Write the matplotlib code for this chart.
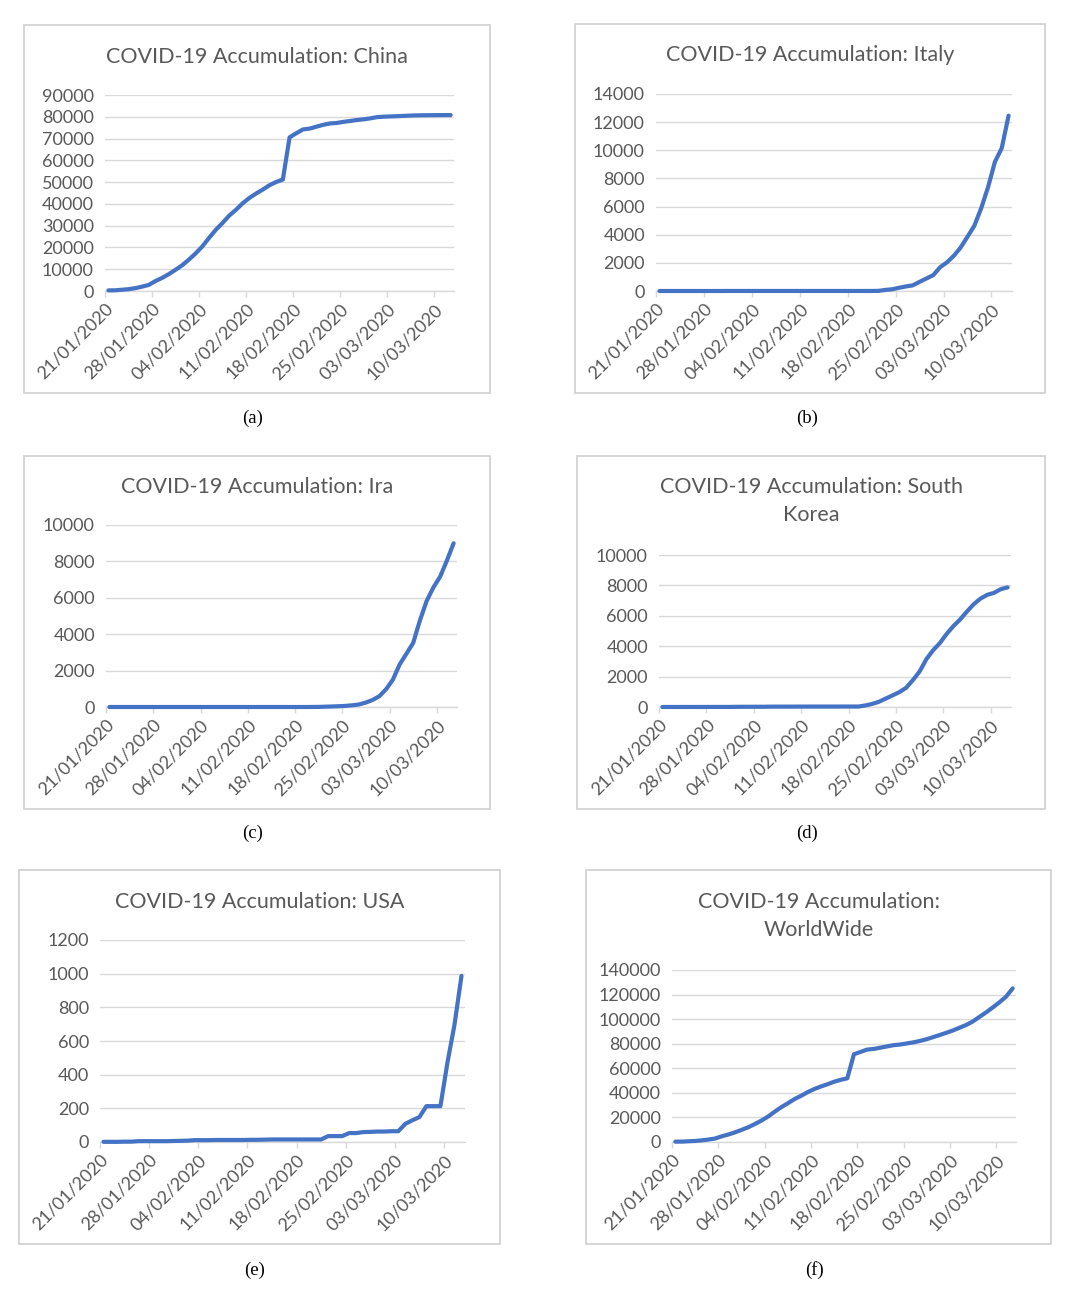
import matplotlib
matplotlib.use('Agg')
import matplotlib.pyplot as plt
from matplotlib.patches import Rectangle
import numpy as np
import pandas as pd

plt.rcParams['font.family'] = ['Lato', 'DejaVu Sans']

# one value per daily report, 21/01/2020 .. 12/03/2020
dates = pd.date_range('2020-01-21', '2020-03-12', freq='D')
tick_dates = pd.date_range('2020-01-21', '2020-03-10', freq='7D')

china = [278, 309, 571, 830, 1297, 1985, 2761, 4537, 5997, 7736, 9720,
         11821, 14411, 17238, 20471, 24363, 28060, 31211, 34598, 37251, 40235,
         42708, 44730, 46550, 48548, 50054, 51174, 70548, 72436, 74185, 74576,
         75465, 76288, 76936, 77150, 77658, 78064, 78497, 78824, 79251,
         79824, 80026, 80151, 80270, 80409, 80552, 80651, 80695, 80735, 80754,
         80778, 80793]

italy = [0] * 10 + [2] * 21 + [3, 9, 76, 124, 229, 322, 400, 650, 888,
         1128, 1689, 2036, 2502, 3089, 3858, 4636, 5883, 7375, 9172, 10149, 12462]

iran = [0] * 30 + [2, 5, 18, 28, 43, 61, 95, 141, 245, 388,
        593, 978, 1501, 2336, 2922, 3513, 4747, 5823, 6566, 7161, 8042, 9000]

south_korea = [1, 1, 1, 2, 2, 2, 3, 4, 4, 4, 4,
               12, 15, 15, 16, 16, 23, 24, 24, 25, 27, 28, 28, 28, 28, 28,
               29, 30, 31, 31, 104, 204, 346, 556, 763, 977, 1261, 1766, 2337, 3150,
               3736, 4212, 4812, 5328, 5766, 6284, 6767, 7134, 7382, 7513, 7755, 7869]

usa = [1, 1, 1, 2, 2, 5, 5, 5, 5, 5, 6,
       7, 8, 11, 11, 11, 12, 12, 12, 12, 12, 13, 13, 14, 15, 15, 15, 15, 15,
       15, 15, 15, 35, 35, 35, 53, 53, 59, 60, 62,
       62, 64, 64, 108, 129, 148, 213, 213, 213, 472, 696, 987]

worldwide = [282, 314, 581, 846, 1320, 2014, 2798, 4593, 6065, 7818, 9826,
             11953, 14557, 17391, 20630, 24554, 28276, 31481, 34886, 37558, 40554,
             43103, 45171, 46997, 49053, 50580, 51857, 71429, 73332, 75204, 75748,
             76769, 77794, 78811, 79331, 80239, 81109, 82294, 83652, 85403,
             87137, 88948, 90870, 93090, 95333, 98192, 101927, 105586, 109578,
             113702, 118319, 125048]

W, H = 1070, 1307
BLUE = '#4472C4'
TEXT = '#595959'
GRID = '#D9D9D9'

# pixel layout: chart box, plot area, title line y's, caption position
panels = [
    dict(title=['COVID-19 Accumulation: China'], values=china, ymax=90000, step=10000,
         box=(24, 25, 490, 393), plot=(105, 95, 454, 291), title_y=[57], cap='(a)', cap_xy=(253, 418)),
    dict(title=['COVID-19 Accumulation: Italy'], values=italy, ymax=14000, step=2000,
         box=(575, 24, 1045, 393), plot=(656, 94, 1012, 291), title_y=[55], cap='(b)', cap_xy=(807, 418)),
    dict(title=['COVID-19 Accumulation: Ira'], values=iran, ymax=10000, step=2000,
         box=(24, 456, 490, 809), plot=(106, 525, 457, 707), title_y=[487], cap='(c)', cap_xy=(253, 833)),
    dict(title=['COVID-19 Accumulation: South', 'Korea'], values=south_korea, ymax=10000, step=2000,
         box=(577, 456, 1045, 809), plot=(659, 555, 1011, 707), title_y=[487, 515], cap='(d)', cap_xy=(807, 833)),
    dict(title=['COVID-19 Accumulation: USA'], values=usa, ymax=1200, step=200,
         box=(19, 870, 500, 1244), plot=(100, 940, 465, 1142), title_y=[902], cap='(e)', cap_xy=(255, 1270)),
    dict(title=['COVID-19 Accumulation:', 'WorldWide'], values=worldwide, ymax=140000, step=20000,
         box=(586, 870, 1051, 1244), plot=(672, 970, 1016, 1142), title_y=[902, 930], cap='(f)', cap_xy=(814, 1270)),
]


def fx(x):
    return x / W


def fy(y):
    return 1 - y / H


fig = plt.figure(figsize=(W / 100, H / 100), dpi=100)
fig.patch.set_facecolor('white')

for p in panels:
    x0, y0, x1, y1 = p['box']
    fig.add_artist(Rectangle((fx(x0), fy(y1)), (x1 - x0) / W, (y1 - y0) / H,
                             transform=fig.transFigure, fill=False, ec='#D2D2D2', lw=1.3))
    cx = (x0 + x1) / 2
    for line, ty in zip(p['title'], p['title_y']):
        fig.text(fx(cx), fy(ty), line, ha='center', va='center', fontsize=15.5, color=TEXT)
    fig.text(fx(p['cap_xy'][0]), fy(p['cap_xy'][1]), p['cap'], ha='center', va='center',
             fontsize=13.5, family='Liberation Serif', color='black')

    l, t, r, b = p['plot']
    ax = fig.add_axes([fx(l), fy(b), (r - l) / W, (b - t) / H])
    # Excel-style date axis: each point sits in the middle of its day
    ax.plot(dates + pd.Timedelta(hours=12), p['values'], color=BLUE, lw=3.0,
            solid_joinstyle='round', solid_capstyle='round', clip_on=False, zorder=3)
    ax.set_xlim(dates[0], dates[-1] + pd.Timedelta(days=1))
    ax.set_ylim(0, p['ymax'])
    ax.set_yticks(np.arange(0, p['ymax'] + 1, p['step']))
    ax.yaxis.grid(True, color=GRID, lw=1.0)
    ax.set_axisbelow(True)
    for side in ['top', 'right', 'left']:
        ax.spines[side].set_visible(False)
    ax.spines['bottom'].set_color(GRID)
    ax.spines['bottom'].set_linewidth(1.0)
    ax.tick_params(axis='y', length=0, pad=8, labelcolor=TEXT, labelsize=13)
    ax.tick_params(axis='x', length=4, width=1.0, color=GRID, pad=3, labelcolor=TEXT, labelsize=13)
    ax.set_xticks(tick_dates)
    ax.set_xticklabels([d.strftime('%d/%m/%Y') for d in tick_dates], rotation=45,
                       ha='right', va='top', rotation_mode='anchor')
    ax.set_facecolor('none')

fig.savefig('out.png', dpi=100, facecolor='white')
